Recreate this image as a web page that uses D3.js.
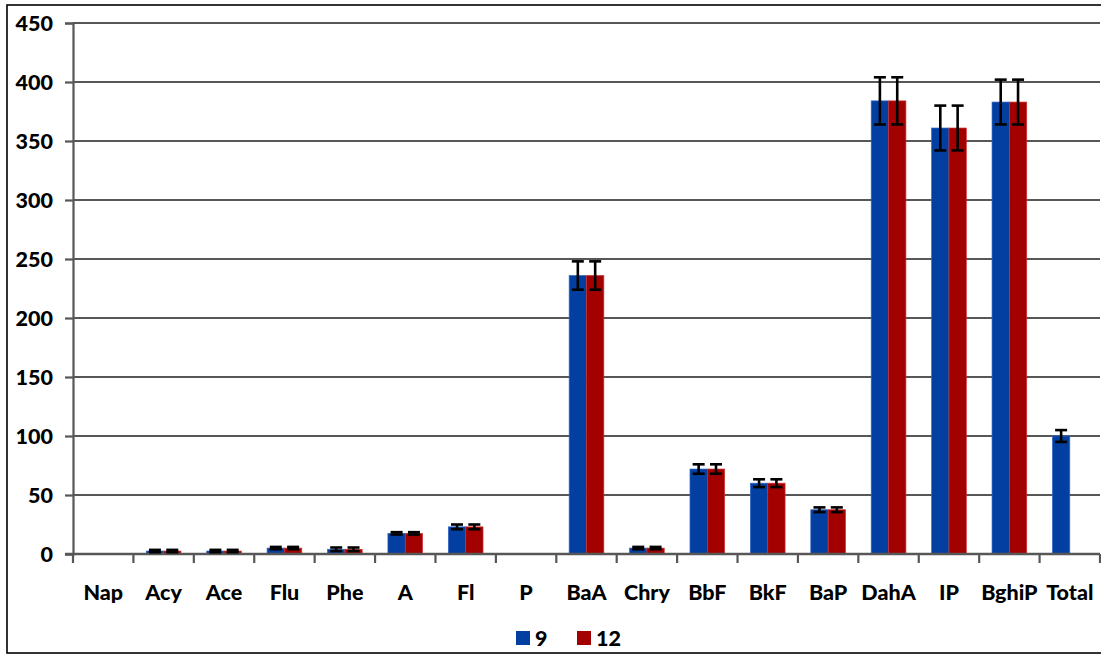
<!DOCTYPE html>
<html>
<head>
<meta charset="utf-8">
<script src="https://cdn.jsdelivr.net/npm/d3@7"></script>
<style>
  html, body { margin: 0; padding: 0; background: #fff; }
  svg { display: block; }
  text { font-family: Lato, "Open Sans", sans-serif; font-weight: 900; fill: #000; }
</style>
</head>
<body>
<svg id="chart" width="1101" height="655"></svg>
<script>
// PAH compounds
const categories = ["Nap","Acy","Ace","Flu","Phe","A","Fl","P","BaA","Chry","BbF","BkF","BaP","DahA","IP","BghiP","Total"];
const seriesNames = ["9", "12"];
// mean values per series
const values9  = [0, 2.5, 2.5, 5, 4, 17.5, 23, 0, 236, 5, 72, 60, 37.5, 384, 361, 383, 100];
const values12 = [0, 2.5, 2.5, 5, 4, 17.5, 23, 0, 236, 5, 72, 60, 37.5, 384, 361, 383, null];
// error (± half range)
const errors9  = [0, 1, 1, 1, 1.5, 1, 2, 0, 12, 1, 4, 3.3, 2, 20, 19, 19, 5];
const errors12 = [0, 1, 1, 1, 1.5, 1, 2, 0, 12, 1, 4, 3.3, 2, 20, 19, 19, null];
const yTicks = [0, 50, 100, 150, 200, 250, 300, 350, 400, 450];
const colors = ["#023FA0", "#A30000"];
const strokes = ["#2f66c4", "#cc3333"];

const svg = d3.select("#chart");
const margin = { left: 73, right: 1, top: 23, bottom: 101 };
const W = 1101, H = 655;
const font = "Lato, sans-serif";

// outer frame
svg.append("rect")
  .attr("x", 7).attr("y", 5)
  .attr("width", 1101).attr("height", 648)
  .attr("fill", "none").attr("stroke", "#000").attr("stroke-width", 1.6);

const x0 = d3.scaleBand().domain(categories)
  .range([margin.left, W - margin.right]).padding(0);
const x1 = d3.scaleBand().domain(seriesNames)
  .range([x0.bandwidth() * 0.213, x0.bandwidth() * 0.787]).padding(0);
const y = d3.scaleLinear().domain([0, 450]).range([H - margin.bottom, margin.top]);

// horizontal grid lines
svg.append("g").selectAll("line").data(yTicks.filter(d => d > 0)).join("line")
  .attr("x1", margin.left).attr("x2", W - margin.right)
  .attr("y1", d => y(d)).attr("y2", d => y(d))
  .attr("stroke", "#575757").attr("stroke-width", 2.2);

// y axis
const yAxis = svg.append("g").attr("transform", `translate(${margin.left},0)`)
  .call(d3.axisLeft(y).tickValues(yTicks).tickSize(8).tickPadding(12));
yAxis.select(".domain").attr("stroke", "#575757").attr("stroke-width", 2.2);
yAxis.selectAll(".tick line").attr("stroke", "#575757").attr("stroke-width", 2.2);
yAxis.selectAll(".tick text").style("font-size", "21.5px").attr("dy", "0.36em")
  .style("font-family", font).style("font-weight", "900");

// bars
const series = [
  { name: "9", vals: values9, errs: errors9 },
  { name: "12", vals: values12, errs: errors12 }
];
series.forEach((s, si) => {
  const data = categories.map((c, i) => ({ c, v: s.vals[i], e: s.errs[i] }))
    .filter(d => d.v !== null && d.v > 0);
  const g = svg.append("g");
  g.selectAll("rect").data(data).join("rect")
    .attr("x", d => x0(d.c) + x1(s.name))
    .attr("y", d => y(d.v))
    .attr("width", x1.bandwidth())
    .attr("height", d => y(0) - y(d.v))
    .attr("fill", colors[si])
    .attr("stroke", strokes[si]).attr("stroke-width", 0.7);
});

// x axis
const xAxis = svg.append("g").attr("transform", `translate(0,${y(0)})`)
  .call(d3.axisBottom(x0).tickSize(0).tickPadding(31));
xAxis.select(".domain").remove();
xAxis.selectAll(".tick text").style("font-size", "21.5px")
  .style("font-family", font).style("font-weight", "900");
svg.append("line")
  .attr("x1", margin.left - 8).attr("x2", W - margin.right)
  .attr("y1", y(0)).attr("y2", y(0))
  .attr("stroke", "#575757").attr("stroke-width", 2.5);
// category boundary ticks
const boundaries = categories.map(c => x0(c)).concat([x0(categories[categories.length - 1]) + x0.bandwidth()]);
svg.append("g").selectAll("line").data(boundaries).join("line")
  .attr("x1", d => d).attr("x2", d => d)
  .attr("y1", y(0)).attr("y2", y(0) + 9)
  .attr("stroke", "#575757").attr("stroke-width", 2.2);

// error bars
series.forEach((s, si) => {
  const data = categories.map((c, i) => ({ c, v: s.vals[i], e: s.errs[i] }))
    .filter(d => d.v !== null && d.v > 0 && d.e > 0);
  const g = svg.append("g").attr("stroke", "#000").attr("stroke-width", 2.6);
  data.forEach(d => {
    const cx = x0(d.c) + x1(s.name) + x1.bandwidth() / 2;
    const yt = y(d.v + d.e), yb = y(d.v - d.e);
    g.append("line").attr("x1", cx).attr("x2", cx).attr("y1", yt).attr("y2", yb);
    g.append("line").attr("x1", cx - 6).attr("x2", cx + 6).attr("y1", yt).attr("y2", yt);
    g.append("line").attr("x1", cx - 6).attr("x2", cx + 6).attr("y1", yb).attr("y2", yb);
  });
});

// legend
const legend = svg.append("g").attr("transform", "translate(516,631)");
const legendX = [0, 61];
series.forEach((s, si) => {
  const lg = legend.append("g").attr("transform", `translate(${legendX[si]},0)`);
  lg.append("rect").attr("width", 14).attr("height", 14).attr("fill", colors[si]);
  lg.append("text").attr("x", 19).attr("y", 14.5).style("font-size", "21.5px").text(s.name);
});
</script>
</body>
</html>
